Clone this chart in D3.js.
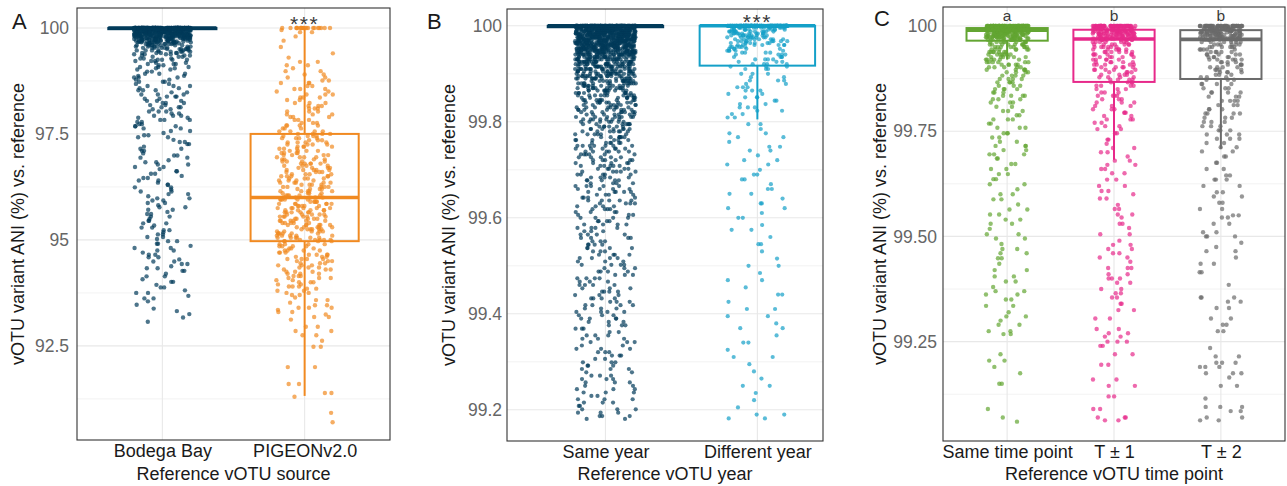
<!DOCTYPE html>
<html lang="en">
<head>
<meta charset="UTF-8">
<title>vOTU variant ANI vs. reference</title>
<script src="https://d3js.org/d3.v7.min.js"></script>
<style>
  body { margin: 0; background: #ffffff; }
  svg { display: block; font-family: "Liberation Sans", Arial, Helvetica, sans-serif; }
</style>
</head>
<body>
<svg id="chart" width="1287" height="486"></svg>
<script>
// ---- data: [ANI value, number of variants at that value] ----
const bodegaAni = [
  [100,140],[99.98,28],[99.96,26],[99.94,26],[99.92,24],[99.9,23],[99.88,21],[99.86,20],[99.84,18],[99.82,17],
  [99.8,16],[99.78,15],[99.76,13],[99.74,12],[99.72,11],[99.7,10],[99.68,9],[99.66,8],[99.64,7],
  [99.62,7],[99.59,7],[99.56,6],[99.53,7],[99.5,6],[99.47,6],[99.44,5],[99.41,5],[99.38,4],[99.35,3],[99.32,3],
  [99.28,3],[99.25,4],[99.22,3],[99.18,2],[99.15,3],[99.12,2],[99.08,3],[99.05,2],[99.02,2],
  [98.97,2],[98.92,3],[98.87,2],[98.83,3],[98.78,2],[98.73,3],[98.68,2],[98.63,3],[98.58,2],[98.53,3],
  [98.48,2],[98.43,3],[98.38,3],[98.33,2],[98.28,3],[98.23,3],[98.18,2],[98.13,3],[98.08,2],[98.03,3],
  [97.98,2],[97.93,3],[97.88,2],[97.83,3],[97.78,2],[97.73,2],[97.68,3],[97.63,2],
  [97.57,2],[97.52,1],[97.47,2],[97.42,2],[97.36,1],[97.31,2],[97.26,2],[97.2,1],[97.15,2],[97.1,2],
  [97.04,1],[96.99,2],[96.94,2],[96.88,1],[96.83,2],[96.78,2],[96.72,2],[96.67,1],[96.62,2],[96.56,2],
  [96.51,1],[96.46,2],[96.4,2],[96.35,1],[96.3,2],[96.24,2],[96.19,1],[96.14,2],[96.08,2],[96.03,1],
  [95.98,2],[95.93,2],[95.87,2],[95.82,1],[95.77,2],[95.71,2],[95.66,1],[95.61,2],[95.55,2],[95.5,1],
  [95.45,2],[95.39,2],[95.34,1],[95.29,2],[95.23,2],[95.18,1],[95.13,2],[95.07,2],[95.02,1],[94.97,2],
  [94.91,2],[94.86,1],[94.81,2],[94.75,2],[94.7,1],[94.65,2],[94.59,2],[94.54,1],[94.49,2],[94.43,2],
  [94.38,1],[94.33,2],[94.27,2],[94.2,1],[94.14,2],[94.07,1],[94.01,2],[93.94,1],[93.88,2],[93.81,1],
  [93.75,2],[93.68,1],[93.62,2],[93.55,1],[93.47,1],[93.38,1],[93.32,1],[93.25,1],[93.17,1],[93.07,1]
];
const pigeonAni = [
  [100,20],[99.95,1],[99.9,2],[99.8,1],[99.7,1],[99.55,1],[99.4,1],[99.3,1],[99.2,2],
  [99.12,2],[99.05,1],[98.98,2],[98.9,2],[98.83,2],[98.76,2],[98.7,3],[98.63,2],[98.56,3],[98.5,2],
  [98.43,3],[98.36,3],[98.3,2],[98.23,3],[98.16,3],[98.1,3],[98.03,3],[97.96,3],[97.9,3],[97.83,3],
  [97.76,3],[97.7,4],[97.63,3],[97.56,4],[97.5,4],
  [97.45,4],[97.4,4],[97.35,3],[97.3,4],[97.25,4],[97.2,4],[97.15,3],[97.1,4],[97.05,4],[97.0,4],
  [96.95,4],[96.9,4],[96.85,4],[96.8,5],[96.75,4],[96.7,4],[96.65,5],[96.6,4],[96.55,4],[96.5,5],
  [96.45,4],[96.4,4],[96.35,5],[96.3,4],[96.25,5],[96.2,4],[96.15,5],[96.1,4],[96.05,5],[96.0,6],
  [95.95,6],[95.9,5],[95.85,6],[95.8,5],[95.75,6],[95.7,5],[95.65,6],[95.6,5],[95.55,6],[95.5,5],
  [95.45,6],[95.4,5],[95.35,6],[95.3,5],[95.25,6],[95.2,5],[95.15,6],[95.1,5],[95.05,6],[95.0,5],[94.97,4],
  [94.9,4],[94.85,4],[94.8,3],[94.75,4],[94.7,3],[94.65,4],[94.6,3],[94.55,4],[94.5,3],[94.45,3],
  [94.4,3],[94.35,3],[94.3,3],[94.25,3],[94.2,3],[94.15,3],[94.1,3],[94.05,2],[94.0,3],[93.95,2],
  [93.9,3],[93.85,2],[93.8,2],[93.75,2],
  [93.7,2],[93.64,1],[93.58,2],[93.52,1],[93.46,2],[93.4,3],[93.35,1],[93.3,2],[93.24,1],[93.18,2],[93.12,1],
  [92.95,2],[92.85,2],[92.75,2],[92.62,1],[92.48,2],[92.0,2],[91.6,2],[91.39,2],[91.3,1],[90.92,1],[90.7,1]
];
const sameYearAni = [
  [100,150],[99.996,55],[99.992,55],[99.988,52],[99.984,50],[99.98,48],[99.976,46],[99.972,44],[99.968,42],
  [99.964,40],[99.96,38],[99.956,36],[99.952,34],[99.948,32],[99.944,30],
  [99.94,28],[99.935,26],[99.93,25],[99.925,23],[99.92,22],[99.915,20],[99.91,19],[99.905,18],[99.9,17],
  [99.895,16],[99.89,15],[99.885,14],[99.88,13],[99.875,12],
  [99.87,11],[99.865,11],[99.86,10],[99.855,10],[99.85,9],[99.845,9],[99.84,9],[99.835,8],[99.83,8],
  [99.825,8],[99.82,8],[99.815,7],[99.81,8],[99.805,7],[99.8,7],[99.795,7],[99.79,6],[99.785,7],
  [99.78,7],[99.774,6],[99.768,7],[99.762,6],[99.756,6],[99.75,7],[99.744,6],[99.738,6],[99.732,6],
  [99.726,5],[99.72,6],[99.714,5],[99.708,6],[99.702,5],[99.696,5],[99.69,5],[99.684,5],[99.678,5],
  [99.672,4],[99.666,5],[99.66,4],[99.654,5],[99.648,4],[99.642,4],[99.636,5],[99.63,4],[99.624,4],
  [99.618,4],[99.612,4],[99.606,3],[99.6,4],
  [99.593,4],[99.586,4],[99.579,4],[99.572,3],[99.565,4],[99.558,4],[99.551,3],[99.544,4],[99.537,4],
  [99.53,3],[99.523,4],[99.516,4],[99.509,3],[99.502,4],[99.495,3],[99.488,4],[99.481,3],[99.474,4],
  [99.467,3],[99.46,4],[99.453,3],[99.446,4],[99.439,3],[99.432,4],[99.425,3],[99.418,4],[99.411,3],
  [99.404,4],[99.397,3],[99.39,4],
  [99.383,3],[99.376,3],[99.369,3],[99.362,2],[99.355,3],[99.348,3],[99.341,3],[99.334,2],[99.327,3],
  [99.32,3],[99.313,3],[99.306,2],[99.299,3],[99.292,3],[99.285,3],[99.278,2],[99.271,3],[99.264,3],
  [99.257,3],[99.25,2],[99.243,3],[99.236,3],[99.229,2],[99.222,3],[99.215,3],[99.208,2],[99.201,3],
  [99.194,3],[99.187,3],[99.181,2]
];
const diffYearAni = [
  [100,200],[99.996,14],[99.992,12],[99.988,12],[99.984,10],[99.98,10],[99.976,9],[99.972,8],[99.968,8],
  [99.964,7],[99.96,7],[99.956,6],[99.952,5],[99.948,5],[99.944,4],[99.94,4],[99.935,4],[99.93,4],
  [99.925,3],[99.92,4],[99.915,3],
  [99.91,3],[99.9,3],[99.893,2],[99.886,3],[99.879,2],[99.872,3],[99.865,3],[99.858,2],[99.851,3],
  [99.844,2],[99.837,2],[99.83,3],[99.823,2],[99.816,2],[99.809,2],
  [99.795,2],[99.785,1],[99.776,2],[99.768,2],[99.758,1],[99.748,2],[99.74,2],[99.73,1],[99.72,2],
  [99.711,2],[99.7,1],[99.69,2],[99.68,2],[99.67,1],[99.66,2],[99.65,2],[99.64,1],[99.63,2],[99.62,2],
  [99.61,1],[99.6,2],
  [99.585,1],[99.575,2],[99.56,1],[99.545,2],[99.53,1],[99.515,1],[99.5,2],[99.485,1],[99.47,2],
  [99.455,1],[99.44,2],[99.425,1],[99.41,2],[99.395,2],
  [99.38,1],[99.37,2],[99.355,1],[99.34,2],[99.325,1],[99.31,2],[99.295,1],[99.28,1],[99.265,1],
  [99.25,2],[99.235,1],[99.22,1],[99.205,1],[99.19,2],[99.182,2]
];
const sameTimeAni = [
  [100,80],[99.997,20],[99.994,20],[99.991,18],[99.988,18],[99.985,16],[99.982,15],[99.979,14],[99.976,13],
  [99.973,12],[99.97,11],[99.967,10],
  [99.962,9],[99.956,8],[99.95,8],[99.944,7],[99.938,7],[99.932,7],[99.926,6],[99.92,6],[99.914,6],
  [99.908,5],[99.902,5],[99.896,5],
  [99.89,4],[99.882,4],[99.874,4],[99.866,4],[99.858,3],[99.85,4],[99.842,3],[99.834,4],[99.826,3],
  [99.818,3],[99.808,2],[99.798,3],[99.788,2],[99.778,3],[99.768,2],[99.758,3],
  [99.745,3],[99.735,2],[99.725,2],[99.715,3],[99.705,2],[99.695,3],[99.685,2],
  [99.672,2],[99.66,2],[99.648,2],[99.636,2],[99.624,2],[99.612,1],[99.6,2],[99.588,2],[99.576,1],
  [99.564,2],[99.552,2],
  [99.54,2],[99.53,2],[99.518,1],[99.505,2],[99.495,2],[99.482,1],[99.47,2],[99.46,2],
  [99.448,2],[99.435,1],[99.42,2],[99.405,2],[99.393,2],[99.38,1],[99.37,2],[99.362,2],
  [99.35,2],[99.335,2],[99.32,1],[99.31,2],[99.3,1],[99.29,2],[99.275,2],[99.268,2],
  [99.22,1],[99.205,2],[99.19,1],[99.175,1],[99.15,2],[99.09,1],[99.07,1],[99.06,1]
];
const tPlus1Ani = [
  [100,50],[99.997,14],[99.994,13],[99.991,13],[99.988,12],[99.985,12],[99.982,11],[99.979,10],[99.976,10],
  [99.973,9],[99.97,9],[99.967,8],
  [99.962,7],[99.956,7],[99.95,6],[99.944,6],[99.938,6],[99.932,6],[99.926,5],[99.92,5],[99.914,5],
  [99.908,5],[99.902,5],[99.896,5],[99.89,4],[99.884,4],[99.878,4],[99.872,4],[99.866,4],
  [99.858,4],[99.85,3],[99.842,3],[99.834,4],[99.826,3],[99.818,3],[99.81,3],[99.802,3],[99.794,3],
  [99.786,2],[99.778,3],[99.77,2],[99.762,2],[99.755,2],
  [99.745,2],[99.73,2],[99.72,1],[99.71,2],[99.7,2],[99.69,1],[99.68,2],[99.67,2],[99.66,2],
  [99.65,2],[99.635,2],[99.62,2],[99.608,2],[99.6,1],[99.59,2],[99.575,1],[99.565,2],[99.552,2],[99.545,1],
  [99.53,2],[99.52,1],[99.505,2],[99.49,1],[99.48,2],[99.47,2],[99.46,2],
  [99.45,2],[99.44,1],[99.425,3],[99.41,2],[99.4,3],[99.39,2],[99.375,2],[99.365,2],
  [99.355,2],[99.34,2],[99.325,2],[99.305,2],[99.28,2],[99.27,2],
  [99.262,2],[99.25,3],[99.24,2],[99.22,2],[99.195,2],
  [99.16,2],[99.145,2],[99.12,2],[99.09,2],[99.07,3],[99.063,2]
];
const tPlus2Ani = [
  [100,50],[99.997,13],[99.994,13],[99.991,12],[99.988,12],[99.985,11],[99.982,11],[99.979,10],[99.976,10],
  [99.973,9],[99.97,9],[99.967,8],
  [99.962,6],[99.956,6],[99.95,6],[99.944,5],[99.938,5],[99.932,5],[99.926,5],[99.92,5],[99.914,4],
  [99.908,4],[99.902,4],[99.896,4],[99.89,4],[99.884,3],[99.878,3],[99.872,3],
  [99.862,4],[99.852,3],[99.842,4],[99.832,3],[99.822,4],[99.812,3],[99.802,3],[99.792,4],[99.782,3],
  [99.772,3],[99.762,3],[99.752,3],[99.742,3],[99.732,3],[99.722,2],[99.712,2],[99.702,2],
  [99.69,2],[99.675,2],[99.66,2],[99.645,2],[99.635,3],[99.62,2],[99.605,2],[99.595,2],[99.58,2],
  [99.565,2],[99.55,2],
  [99.545,2],[99.53,2],[99.51,2],[99.5,3],[99.485,1],[99.475,1],[99.465,2],
  [99.45,1],[99.435,2],[99.415,2],[99.385,1],
  [99.355,3],[99.345,2],[99.33,2],[99.305,2],[99.29,2],[99.275,2],
  [99.235,1],[99.215,2],[99.2,3],[99.19,3],[99.175,3],[99.165,1],
  [99.145,2],[99.115,1],[99.095,3],[99.085,2],[99.07,2],[99.063,2]
];

// categories
const sourceCategories = ["Bodega Bay", "PIGEONv2.0"];
const yearCategories = ["Same year", "Different year"];
const timeCategories = ["Same time point", "T \u00b1 1", "T \u00b1 2"];

// boxplot statistics
const sourceQ1 = [99.97, 94.97], sourceMedian = [100, 96.0], sourceQ3 = [100, 97.5];
const sourceLow = [99.93, 91.32], sourceHigh = [100, 100];
const yearQ1 = [99.997, 99.917], yearMedian = [100, 100], yearQ3 = [100, 100];
const yearLow = [99.993, 99.805], yearHigh = [100, 100];
const timeQ1 = [99.965, 99.867, 99.874], timeMedian = [99.99, 99.969, 99.968], timeQ3 = [99.995, 99.991, 99.99];
const timeLow = [99.92, 99.682, 99.708], timeHigh = [100, 100, 100];

// significance labels
const sourceSig = ["", "***"];
const yearSig = ["", "***"];
const timeSig = ["a", "b", "b"];

// axis ticks
const sourceTicks = [92.5, 95, 97.5, 100];
const sourceTickLabels = ["92.5", "95", "97.5", "100"];
const sourceMinor = [91.25, 93.75, 96.25, 98.75];
const yearTicks = [99.2, 99.4, 99.6, 99.8, 100];
const yearTickLabels = ["99.2", "99.4", "99.6", "99.8", "100"];
const yearMinor = [99.3, 99.5, 99.7, 99.9];
const timeTicks = [99.25, 99.5, 99.75, 100];
const timeTickLabels = ["99.25", "99.50", "99.75", "100"];
const timeMinor = [99.125, 99.375, 99.625, 99.875];

const yTitle = "vOTU variant ANI (%) vs. reference";

const svg = d3.select("#chart");

// deterministic horizontal jitter in [-1, 1] (integer hash, same picture every run)
function jitter(k, i) {
  let h = Math.imul(k + 1, 0x9e3779b1) ^ Math.imul(i + 11, 0x85ebca6b);
  h ^= h >>> 15; h = Math.imul(h, 0x85ebca6b);
  h ^= h >>> 13; h = Math.imul(h, 0xc2b2ae35);
  h ^= h >>> 16;
  return (h >>> 0) / 4294967295 * 2 - 1;
}

function drawPanel(p) {
  const [x0, y0, x1, y1] = p.frame;
  const g = svg.append("g");
  const y = d3.scaleLinear().domain(p.yDomain).range([y1, y0]);
  const x = d3.scalePoint().domain(p.cats).range([x0, x1]).padding(p.xPad).align(p.xAlign);
  const step = x.step();

  // grid
  g.selectAll(".minor").data(p.minor).join("line")
    .attr("x1", x0).attr("x2", x1).attr("y1", d => y(d)).attr("y2", d => y(d))
    .attr("stroke", "#eeeeee").attr("stroke-width", 0.7);
  g.selectAll(".major").data(p.ticks).join("line")
    .attr("x1", x0).attr("x2", x1).attr("y1", d => y(d)).attr("y2", d => y(d))
    .attr("stroke", "#e8e8e8").attr("stroke-width", 1.1);
  g.selectAll(".vmajor").data(p.cats).join("line")
    .attr("x1", d => x(d)).attr("x2", d => x(d)).attr("y1", y0).attr("y2", y1)
    .attr("stroke", "#e8e8e8").attr("stroke-width", 1.1);

  // boxes
  p.cats.forEach((c, i) => {
    const cx = x(c), w = step * 0.76, col = p.colors[i];
    const bg = g.append("g").attr("stroke", col).attr("fill", "none");
    bg.append("line").attr("x1", cx).attr("x2", cx)
      .attr("y1", y(p.q1[i])).attr("y2", y(p.lo[i])).attr("stroke-width", 2);
    bg.append("line").attr("x1", cx).attr("x2", cx)
      .attr("y1", y(p.q3[i])).attr("y2", y(p.hi[i])).attr("stroke-width", 2);
    bg.append("rect").attr("x", cx - w / 2).attr("y", y(p.q3[i]))
      .attr("width", w).attr("height", y(p.q1[i]) - y(p.q3[i])).attr("stroke-width", 2);
    bg.append("line").attr("x1", cx - w / 2).attr("x2", cx + w / 2)
      .attr("y1", y(p.median[i])).attr("y2", y(p.median[i])).attr("stroke-width", 3.6);
  });

  // jittered points
  p.groups.forEach((grp, i) => {
    const pts = [];
    grp.forEach(([v, n]) => { for (let k = 0; k < n; k++) pts.push(v); });
    g.append("g").selectAll("circle").data(pts).join("circle")
      .attr("cx", (d, k) => x(p.cats[i]) + jitter(k, i + p.seed) * step * 0.2)
      .attr("cy", d => y(d))
      .attr("r", p.r)
      .attr("fill", p.colors[i])
      .attr("fill-opacity", 0.7);
  });

  // significance letters
  g.selectAll(".sig").data(p.sig).join("text")
    .attr("x", (d, i) => x(p.cats[i]))
    .attr("y", p.sigY)
    .attr("text-anchor", "middle")
    .attr("font-size", p.sigSize)
    .attr("letter-spacing", p.sigSpacing)
    .attr("fill", "#3a3a3a")
    .text(d => d);

  // frame
  g.append("rect").attr("x", x0).attr("y", y0).attr("width", x1 - x0).attr("height", y1 - y0)
    .attr("fill", "none").attr("stroke", "#333").attr("stroke-width", 1.1);

  // axes
  const ay = g.append("g").attr("transform", `translate(${x0},0)`)
    .call(d3.axisLeft(y).tickValues(p.ticks).tickFormat((d, i) => p.tickLabels[i]).tickSize(0).tickPadding(p.yPad));
  ay.select(".domain").remove();
  ay.selectAll("text").attr("font-size", 17.5).attr("fill", "#666").attr("font-family", null);

  const ax = g.append("g").attr("transform", `translate(0,${y1})`)
    .call(d3.axisBottom(x).tickSize(0).tickPadding(4));
  ax.select(".domain").remove();
  ax.selectAll("text").attr("font-size", 18).attr("fill", "#1a1a1a").attr("font-family", null);

  // titles
  g.append("text").attr("x", (x0 + x1) / 2).attr("y", 480).attr("text-anchor", "middle")
    .attr("font-size", 18).attr("fill", "#1a1a1a").text(p.xTitle);
  g.append("text").attr("transform", `translate(${p.yTitleX},${(y0 + y1) / 2}) rotate(-90)`)
    .attr("text-anchor", "middle").attr("font-size", 18).attr("fill", "#1a1a1a").text(yTitle);
  g.append("text").attr("x", p.letterX).attr("y", p.letterY)
    .attr("font-size", 22).attr("fill", "#1a1a1a").text(p.letter);
}

drawPanel({
  letter: "A", letterX: 12, letterY: 29, yTitleX: 24, seed: 0,
  frame: [77, 8, 390, 440], yDomain: [90.28, 100.47],
  xPad: 0.6, xAlign: 0.5, yPad: 8,
  cats: sourceCategories, groups: [bodegaAni, pigeonAni], colors: ["#023b5a", "#f18a21"],
  q1: sourceQ1, median: sourceMedian, q3: sourceQ3, lo: sourceLow, hi: sourceHigh,
  ticks: sourceTicks, tickLabels: sourceTickLabels, minor: sourceMinor,
  sig: sourceSig, sigY: 31, sigSize: 21, sigSpacing: 1.5, r: 2.2,
  xTitle: "Reference vOTU source"
});
drawPanel({
  letter: "B", letterX: 427, letterY: 29, yTitleX: 455, seed: 5,
  frame: [507, 9, 823, 441], yDomain: [99.135, 100.035],
  xPad: 0.54, xAlign: 0.6, yPad: 5,
  cats: yearCategories, groups: [sameYearAni, diffYearAni], colors: ["#023b5a", "#14a0c8"],
  q1: yearQ1, median: yearMedian, q3: yearQ3, lo: yearLow, hi: yearHigh,
  ticks: yearTicks, tickLabels: yearTickLabels, minor: yearMinor,
  sig: yearSig, sigY: 29, sigSize: 21, sigSpacing: 1.5, r: 2.1,
  xTitle: "Reference vOTU year"
});
drawPanel({
  letter: "C", letterX: 874, letterY: 26, yTitleX: 886, seed: 9,
  frame: [943, 7, 1285, 441], yDomain: [99.014, 100.045],
  xPad: 0.6, xAlign: 0.5, yPad: 6,
  cats: timeCategories, groups: [sameTimeAni, tPlus1Ani, tPlus2Ani], colors: ["#63a532", "#e7298a", "#6b6b6b"],
  q1: timeQ1, median: timeMedian, q3: timeQ3, lo: timeLow, hi: timeHigh,
  ticks: timeTicks, tickLabels: timeTickLabels, minor: timeMinor,
  sig: timeSig, sigY: 21, sigSize: 15.5, sigSpacing: 0, r: 2.2,
  xTitle: "Reference vOTU time point"
});
</script>
</body>
</html>
